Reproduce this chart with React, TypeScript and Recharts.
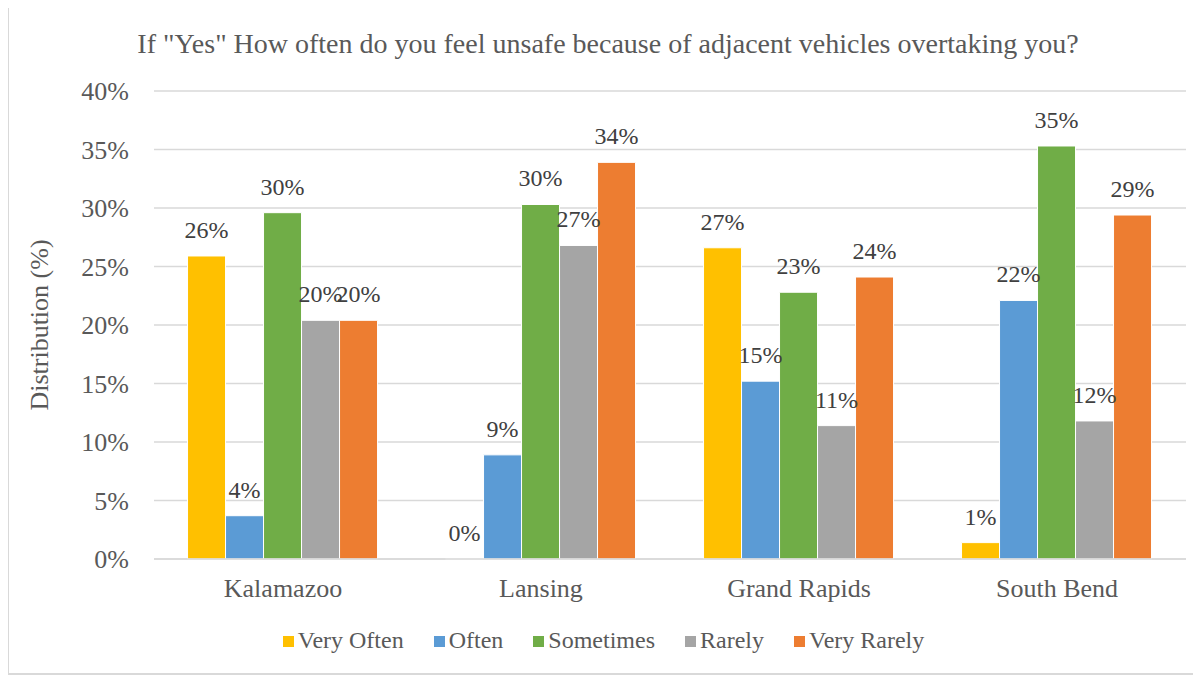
import { BarChart, Bar, XAxis, YAxis, CartesianGrid, Legend, LabelList, Label } from 'recharts'

const cities = ['Kalamazoo', 'Lansing', 'Grand Rapids', 'South Bend']
const veryOften = [25.9, 0, 26.6, 1.4]
const often = [3.7, 8.9, 15.2, 22.1]
const sometimes = [29.6, 30.3, 22.8, 35.3]
const rarely = [20.4, 26.8, 11.4, 11.8]
const veryRarely = [20.4, 33.9, 24.1, 29.4]
const yTicks = [0, 5, 10, 15, 20, 25, 30, 35, 40]

const series = [
  { key: 'veryOften', name: 'Very Often', color: '#FFC000', values: veryOften },
  { key: 'often', name: 'Often', color: '#5B9BD5', values: often },
  { key: 'sometimes', name: 'Sometimes', color: '#70AD47', values: sometimes },
  { key: 'rarely', name: 'Rarely', color: '#A5A5A5', values: rarely },
  { key: 'veryRarely', name: 'Very Rarely', color: '#ED7D31', values: veryRarely },
]

const font = 'Liberation Serif'
const textColor = '#595959'

// legend in series order, Excel-like spacing
function ChartLegend() {
  return (
    <div style={{ display: 'flex', justifyContent: 'center', fontSize: 24, fontFamily: font, color: textColor }}>
      {series.map((s) => (
        <div key={s.key} style={{ display: 'flex', alignItems: 'center', margin: '0 15px' }}>
          <span style={{ width: 11, height: 11, background: s.color, marginRight: 4, marginTop: 2 }} />
          <span>{s.name}</span>
        </div>
      ))}
    </div>
  )
}

export default function App() {
  // one row per city
  const chartData = cities.map((city, i) => {
    const row: Record<string, string | number> = { city }
    series.forEach((s) => {
      row[s.key] = s.values[i]
    })
    return row
  })

  return (
    <div
      style={{
        position: 'relative',
        width: 1193,
        height: 669,
        border: '2px solid #d9d9d9',
        boxSizing: 'border-box',
        marginLeft: -1,
        marginTop: -2,
        background: '#fff',
        fontFamily: font,
      }}
    >
      <div
        style={{
          position: 'absolute',
          top: 20,
          left: 0,
          width: 1198,
          textAlign: 'center',
          fontSize: 28,
          color: textColor,
        }}
      >
        If "Yes" How often do you feel unsafe because of adjacent vehicles overtaking you?
      </div>
      <BarChart
        width={1189}
        height={665}
        data={chartData}
        margin={{ top: 83, right: 12, left: 0, bottom: 34 }}
        barGap={0}
        barCategoryGap="13%"
      >
        <CartesianGrid vertical={false} stroke="#d9d9d9" strokeWidth={1.5} />
        <XAxis
          dataKey="city"
          height={50}
          axisLine={{ stroke: '#d9d9d9', strokeWidth: 1.5 }}
          tickLine={false}
          tickMargin={14}
          tick={{ fill: textColor, fontSize: 26, fontFamily: font }}
        />
        <YAxis
          width={145}
          domain={[0, 40]}
          ticks={yTicks}
          tickFormatter={(v: number) => `${v}%`}
          axisLine={false}
          tickLine={false}
          tickSize={0}
          tickMargin={25}
          tick={{ fill: textColor, fontSize: 26, fontFamily: font }}
        >
          <Label
            value="Distribution (%)"
            angle={-90}
            position="insideLeft"
            offset={30}
            style={{ fill: textColor, fontSize: 26, fontFamily: font, textAnchor: 'middle' }}
          />
        </YAxis>
        <Legend
          verticalAlign="bottom"
          content={() => <ChartLegend />}
          wrapperStyle={{ top: 619, left: 0, width: 1189, height: 30 }}
        />
        {series.map((s) => (
          <Bar
            key={s.key}
            dataKey={s.key}
            name={s.name}
            fill={s.color}
            stroke="#fff"
            strokeWidth={1}
            minPointSize={(v: number) => (v === 0 ? 0.01 : 0)}
            isAnimationActive={false}
          >
            <LabelList
              dataKey={s.key}
              position="top"
              offset={18}
              formatter={(v: number) => `${Math.round(v)}%`}
              style={{ fill: '#404040', fontSize: 24, fontFamily: font }}
            />
          </Bar>
        ))}
      </BarChart>
    </div>
  )
}
